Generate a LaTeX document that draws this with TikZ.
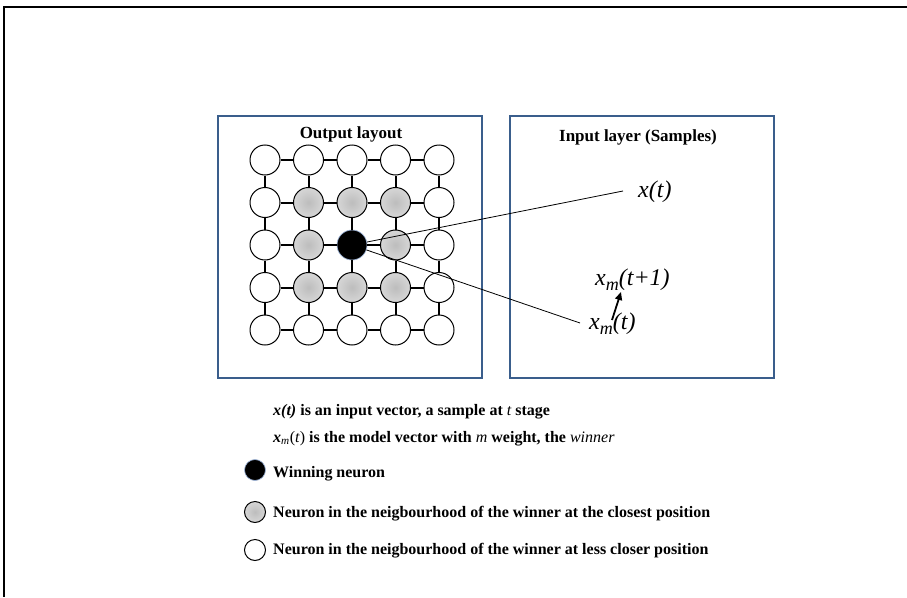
\documentclass[tikz,border=0pt]{standalone}
\usepackage{fontspec}
\setmainfont{Liberation Serif}
\usetikzlibrary{arrows.meta,positioning}
\definecolor{layerblue}{HTML}{3A5E8C}
\definecolor{winrim}{HTML}{9DB3D6}
\newcommand{\lowsub}[1]{\raisebox{-0.24em}{\fontsize{18}{18}\selectfont #1}}

\begin{document}
\begin{tikzpicture}[
 x=1pt,y=-1pt,
 neuron/.style={circle,draw=black,line width=1pt,fill=white,minimum size=30pt,inner sep=0pt},
 far/.style={neuron},
 near/.style={neuron,inner color=gray!52,outer color=gray!32},
 win/.style={neuron,fill=black,draw=winrim,line width=0.7pt},
 layer/.style={draw=layerblue,line width=1.8pt,minimum width=264pt,minimum height=262pt,inner sep=0pt},
 title/.style={font=\fontsize{17}{20}\selectfont\bfseries,anchor=base,inner sep=0pt},
 vec/.style={font=\fontsize{24}{28}\selectfont\itshape,anchor=base west,inner sep=0pt},
 note/.style={font=\fontsize{16}{19}\selectfont\bfseries,anchor=base west,inner sep=0pt},
 key/.style={minimum size=21pt},
 link/.style={line width=2pt},
 ray/.style={line width=0.8pt},
 move/.style={-{Triangle[length=8pt,width=7pt]},line width=1.8pt}
]
\useasboundingbox (0,0) rectangle (907,597);
\draw[line width=2pt] (907,7) -| (4,597);
\node[layer] (outlayer) at (350,247) {};
\node[layer] (inlayer) at (642,247) {};
\node[title] (outtitle) at (351,138) {Output layout};
\node[title] (intitle) at (638,141) {Input layer (Samples)};
\foreach \r in {1,...,5}{
 \foreach \c in {1,...,5}{
  \pgfmathtruncatemacro\k{and(and(\r>1,\r<5),and(\c>1,\c<5))+and(\r==3,\c==3)}
  \pgfmathsetmacro\kind{{"far","near","win"}[\k]}
  \node[\kind] (n\r\c) at ({265+43.5*(\c-1)},{160+42.5*(\r-1)}) {};
 }
}
\foreach \r in {1,...,5}{
 \foreach \c [evaluate=\c as \d using int(\c+1)] in {1,...,4}{
  \draw[link] (n\r\c) -- (n\r\d);
  \draw[link] (n\c\r) -- (n\d\r);
 }
}
\node[vec] (xt) at (638,197) {x(t)};
\node[vec] (xmnext) at (595,285) {x\lowsub{m}(t+1)};
\node[vec] (xmnow) at (589,329) {x\lowsub{m}(t)};
\coordinate (xtend) at (623,191);
\coordinate (xmend) at (580,323);
\draw[ray] (n33) -- (xtend);
\draw[ray] (n33) -- (xmend);
\coordinate (movefrom) at (612,320);
\coordinate (moveto) at (621,292);
\draw[move] (movefrom) -- (moveto);
\node[note] (inputnote) at (273,415) {\itshape x(t)\upshape{} is an input vector, a sample at {\mdseries\itshape t} stage};
\node[note] (modelnote) at (273,442) {\itshape x\textsubscript{\mdseries m}\upshape{\mdseries(\textit{t})} is the model vector with {\mdseries\itshape m} weight, the {\mdseries\itshape winner}};
\node[win,key] (keywin) at (255,470) {};
\node[near,key] (keynear) at (255,512) {};
\node[far,key] (keyfar) at (255,550) {};
\node[note] (winnote) at (273,477) {Winning neuron};
\node[note] (nearnote) at (273,517) {Neuron in the neigbourhood of the winner at the closest position};
\node[note] (farnote) at (273,554) {Neuron in the neigbourhood of the winner at less closer position};
\end{tikzpicture}
\end{document}
